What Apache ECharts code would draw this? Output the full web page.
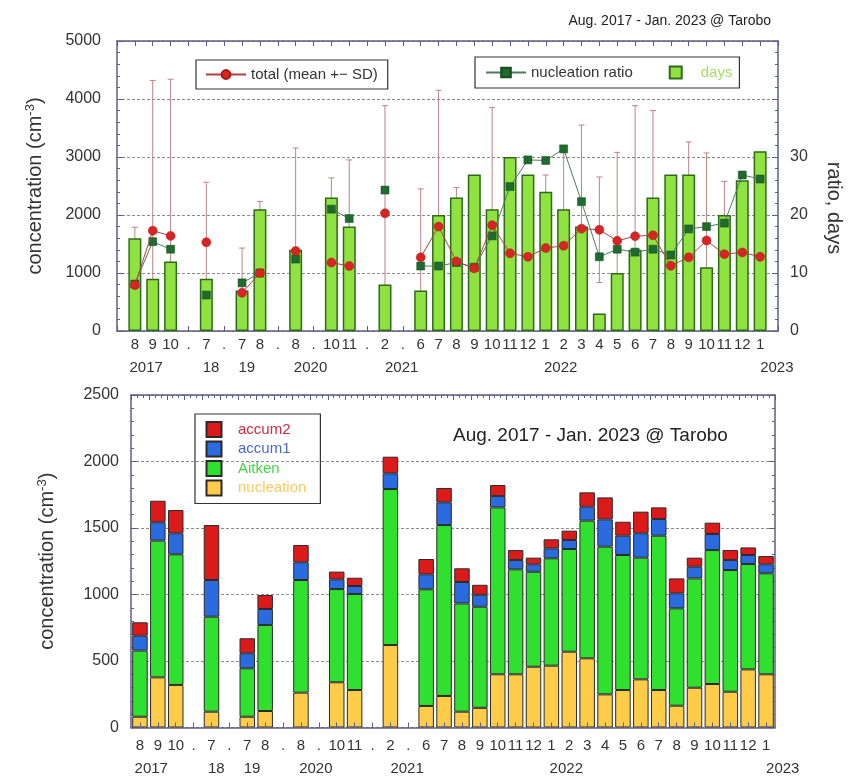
<!DOCTYPE html>
<html>
<head>
<meta charset="utf-8">
<script src="https://cdn.jsdelivr.net/npm/echarts/dist/echarts.min.js"></script>
<style>
  html, body { margin: 0; padding: 0; background: #ffffff; }
  #chart { width: 852px; height: 780px; }
</style>
</head>
<body>
<div id="chart"></div>
<script>
// Month slots along the time axis ('.' marks a skipped period)
const monthLabels = ['8','9','10','.','7','.','7','8','.','8','.','10','11','.','2','.',
  '6','7','8','9','10','11','12','1','2','3','4','5','6','7','8','9','10','11','12','1'];
// Year captions under the month row, and the slot where each caption starts
const yearLabels = ['2017','18','19','2020','2021','2022','2023'];
const yearAt = [-0.3, 3.8, 5.8, 8.9, 14.0, 22.9, 35.0];

// Upper panel: measurement days, total concentration (mean, SD), nucleation ratio
const days = [16, 9, 12, null, 9, null, 7, 21, null, 14, null, 23, 18, null, 8, null,
  7, 20, 23, 27, 21, 30, 27, 24, 21, 18, 3, 10, 14, 23, 27, 27, 11, 20, 26, 31];
const totalMean = [790, 1730, 1640, null, 1530, null, 660, 1000, null, 1380, null, 1180, 1120, null, 2030, null,
  1270, 1800, 1200, 1080, 1825, 1340, 1280, 1430, 1470, 1765, 1745, 1555, 1635, 1650, 1125, 1270, 1560, 1325, 1355, 1280];
const totalSD = [1000, 2590, 2700, null, 1035, null, 770, 1235, null, 1775, null, 1460, 1830, null, 1855, null,
  1180, 2350, 1275, 1400, 2030, 1050, 1150, 1260, 1655, 1785, 910, 1525, 2250, 2150, 1150, 1990, 1510, 1255, 1180, 1200];
const nucleationRatio = [8.1, 15.4, 14.1, null, 6.2, null, 8.3, 10.0, null, 12.4, null, 21.0, 19.4, null, 24.3, null,
  11.2, 11.2, 11.8, 11.0, 16.4, 24.9, 29.5, 29.4, 31.4, 22.3, 12.8, 14.1, 13.6, 14.1, 13.1, 17.6, 18.0, 18.6, 26.9, 26.2];

// Lower panel: size-resolved concentrations (cm-3)
const nucleation = [81, 377, 320, null, 119, null, 81, 124, null, 262, null, 340, 282, null, 620, null,
  162, 237, 119, 148, 400, 400, 457, 465, 570, 520, 249, 282, 362, 282, 164, 299, 327, 269, 437, 400];
const aitken = [497, 1028, 982, null, 714, null, 364, 647, null, 847, null, 701, 722, null, 1173, null,
  877, 1285, 814, 760, 1255, 789, 714, 807, 772, 1035, 1111, 1015, 915, 1160, 732, 822, 1007, 915, 792, 759];
const accum1 = [112, 138, 158, null, 276, null, 113, 120, null, 133, null, 73, 60, null, 118, null,
  113, 171, 161, 90, 85, 70, 56, 75, 68, 105, 205, 145, 183, 126, 113, 88, 121, 75, 68, 68];
const accum2 = [101, 162, 175, null, 413, null, 113, 105, null, 130, null, 58, 62, null, 125, null,
  115, 108, 103, 75, 83, 75, 50, 68, 70, 108, 165, 105, 163, 87, 112, 68, 85, 75, 57, 62];

const FONT = '"Liberation Sans", Arial, sans-serif';
const FRAME = '#5c5c88';
const TEXT = '#333333';
const pairs = arr => arr.map((v, i) => [i, v]);
const square = 'path://M0,0H10V10H0Z';

const frameLine = { show: true, onZero: false, lineStyle: { color: FRAME, width: 1.5 } };
const gridDash = { show: true, lineStyle: { color: '#8a8a8a', type: [3, 2], width: 1 } };
const tickIn = len => ({ show: true, inside: true, length: len, lineStyle: { color: FRAME, width: 1 } });
const minorIn = n => ({ show: true, splitNumber: n, length: 3, lineStyle: { color: FRAME, width: 1 } });
const plain = v => String(v);
const conc = {
  t: { fontSize: 20, color: TEXT, fontFamily: FONT },
  s: { fontSize: 13, color: TEXT, fontFamily: FONT, verticalAlign: 'bottom', padding: [0, 0, 10, 0] }
};
const yearLabel = {
  fontSize: 15, color: TEXT, align: 'left', customValues: yearAt,
  formatter: v => yearLabels[yearAt.indexOf(v)] ?? ''
};

const option = {
  animation: false,
  backgroundColor: '#ffffff',
  textStyle: { fontFamily: FONT },
  title: [
    { text: 'Aug. 2017 - Jan. 2023 @ Tarobo', right: 76, top: 9,
      textStyle: { fontSize: 14, fontWeight: 'normal', color: '#222', fontFamily: FONT } },
    { text: 'Aug. 2017 - Jan. 2023 @ Tarobo', left: 448, top: 421,
      textStyle: { fontSize: 19, fontWeight: 'normal', color: '#222', fontFamily: FONT } }
  ],
  legend: [
    { data: ['total (mean +− SD)'], left: 196, top: 60, orient: 'horizontal',
      itemWidth: 40, itemHeight: 11, padding: [7, 10, 7, 9],
      borderColor: '#333', borderWidth: 1.2, selectedMode: false,
      textStyle: { fontSize: 15, color: TEXT, fontFamily: FONT } },
    { data: ['nucleation ratio', { name: 'days', icon: square, textStyle: { color: '#a6dc6a' } }],
      left: 475, top: 57, orient: 'horizontal',
      itemWidth: 40, itemHeight: 12, itemGap: 36, padding: [8, 7, 8, 10],
      borderColor: '#333', borderWidth: 1.2, selectedMode: false,
      textStyle: { fontSize: 15, color: TEXT, fontFamily: FONT } },
    { data: [
        { name: 'accum2', icon: square, textStyle: { color: '#d02a40' } },
        { name: 'accum1', icon: square, textStyle: { color: '#4a68cc' } },
        { name: 'Aitken', icon: square, textStyle: { color: '#40d840' } },
        { name: 'nucleation', icon: square, textStyle: { color: '#f8cc5a' } }
      ],
      left: 195, top: 414, orient: 'vertical',
      itemWidth: 38, itemHeight: 15, itemGap: 2.5, padding: [7, 14, 7, 10.5],
      borderColor: '#333', borderWidth: 1.2, selectedMode: false,
      textStyle: { fontSize: 15, lineHeight: 15, fontFamily: FONT } }
  ],
  grid: [
    { left: 117, top: 41, width: 665, height: 290 },
    { left: 131, top: 395, width: 644, height: 332.5 }
  ],
  xAxis: [
    // upper panel: month row, top frame, year row
    { gridIndex: 0, type: 'value', min: -1, max: 36, interval: 1, position: 'bottom',
      axisLine: frameLine, axisTick: tickIn(5), splitLine: { show: false },
      axisLabel: { fontSize: 15, color: TEXT, margin: 6, formatter: v => monthLabels[v] ?? '' } },
    { gridIndex: 0, type: 'value', min: -1, max: 36, interval: 1, position: 'top',
      axisLine: frameLine, axisTick: tickIn(5), splitLine: { show: false }, axisLabel: { show: false } },
    { gridIndex: 0, type: 'value', min: -1, max: 36, position: 'bottom', offset: 23,
      axisLine: { show: false }, axisTick: { show: false }, splitLine: { show: false },
      axisLabel: Object.assign({ margin: 6 }, yearLabel) },
    // lower panel: month row, top frame, year row
    { gridIndex: 1, type: 'category', data: monthLabels, boundaryGap: true, position: 'bottom', z: 5,
      axisLine: frameLine, splitLine: { show: false },
      axisTick: Object.assign(tickIn(5), { alignWithLabel: true, interval: 0 }),
      axisLabel: { fontSize: 15, color: TEXT, margin: 11, interval: 0 } },
    { gridIndex: 1, type: 'value', min: 0, max: 108, interval: 3, position: 'top',
      axisLine: frameLine, axisTick: tickIn(5), minorTick: minorIn(3),
      splitLine: { show: false }, axisLabel: { show: false } },
    { gridIndex: 1, type: 'value', min: -0.5, max: 35.5, position: 'bottom', offset: 23,
      axisLine: { show: false }, axisTick: { show: false }, splitLine: { show: false },
      axisLabel: Object.assign({ margin: 11 }, yearLabel) }
  ],
  yAxis: [
    { gridIndex: 0, type: 'value', min: 0, max: 5000, interval: 1000, position: 'left',
      axisLine: frameLine, axisTick: tickIn(6), minorTick: minorIn(5), splitLine: gridDash,
      axisLabel: { fontSize: 16, color: TEXT, margin: 16, formatter: plain },
      name: '{t|concentration (cm}{s|-3}{t|)}', nameLocation: 'middle', nameGap: 70,
      nameTextStyle: { rich: conc } },
    { gridIndex: 0, type: 'value', min: 0, max: 50, interval: 10, position: 'right',
      axisLine: frameLine, axisTick: tickIn(6), minorTick: minorIn(5), splitLine: { show: false },
      axisLabel: { fontSize: 16, color: TEXT, margin: 12, formatter: v => (v <= 30 ? String(v) : '') },
      name: 'ratio, days', nameLocation: 'middle', nameRotate: -90, nameGap: 46,
      nameTextStyle: { fontSize: 20, color: TEXT, fontFamily: FONT, padding: [0, 0, 0, 44] } },
    { gridIndex: 1, type: 'value', min: 0, max: 2500, interval: 500, position: 'left',
      axisLine: frameLine, axisTick: tickIn(6), minorTick: minorIn(5), splitLine: gridDash,
      axisLabel: { fontSize: 16, color: TEXT, margin: 12, formatter: plain },
      name: '{t|concentration (cm}{s|-3}{t|)}', nameLocation: 'middle', nameGap: 72,
      nameTextStyle: { rich: conc } },
    { gridIndex: 1, type: 'value', min: 0, max: 2500, interval: 500, position: 'right',
      axisLine: frameLine, axisTick: tickIn(6), minorTick: minorIn(5),
      splitLine: { show: false }, axisLabel: { show: false } }
  ],
  series: [
    // SD whiskers of the total concentration
    { type: 'custom', name: 'SD', xAxisIndex: 0, yAxisIndex: 0, z: 1, silent: true,
      data: totalMean.map((m, i) => [i, m, totalSD[i]]),
      encode: { x: 0, y: 1 },
      renderItem: (params, api) => {
        const x = api.value(0), m = api.value(1), s = api.value(2);
        if (isNaN(m) || isNaN(s)) return null;
        const lo = Math.max(0, m - s), hi = m + s;
        const pHi = api.coord([x, hi]), pLo = api.coord([x, lo]);
        const st = { stroke: '#b98585', lineWidth: 1 };
        const kids = [
          { type: 'line', shape: { x1: pHi[0], y1: pHi[1], x2: pLo[0], y2: pLo[1] }, style: st },
          { type: 'line', shape: { x1: pHi[0] - 3, y1: pHi[1], x2: pHi[0] + 3, y2: pHi[1] }, style: st }
        ];
        if (m - s > 0) {
          kids.push({ type: 'line', shape: { x1: pLo[0] - 3, y1: pLo[1], x2: pLo[0] + 3, y2: pLo[1] }, style: st });
        }
        return { type: 'group', children: kids };
      } },
    { type: 'bar', name: 'days', xAxisIndex: 0, yAxisIndex: 1, z: 2, barWidth: 13,
      data: pairs(days),
      itemStyle: { color: '#8fe23f', borderColor: '#2f6a1c', borderWidth: 1.5 } },
    { type: 'line', name: 'nucleation ratio', xAxisIndex: 0, yAxisIndex: 1, z: 3,
      data: pairs(nucleationRatio), connectNulls: false,
      symbol: 'rect', symbolSize: 8,
      itemStyle: { color: '#1f6a2e', borderColor: '#164d20', borderWidth: 0.5 },
      lineStyle: { color: '#4f7a5c', width: 1 } },
    { type: 'line', name: 'total (mean +− SD)', xAxisIndex: 0, yAxisIndex: 0, z: 4,
      data: pairs(totalMean), connectNulls: false,
      symbol: 'circle', symbolSize: 9,
      itemStyle: { color: '#d92424', borderColor: '#a81a1a', borderWidth: 0.5 },
      lineStyle: { color: '#b04040', width: 1 } },

    // Stacked size classes
    { type: 'bar', name: 'nucleation', stack: 'size', xAxisIndex: 3, yAxisIndex: 2, barWidth: 15.5,
      data: nucleation, itemStyle: { color: '#ffcc4a', borderColor: '#2a2a2a', borderWidth: 1 } },
    { type: 'bar', name: 'Aitken', stack: 'size', xAxisIndex: 3, yAxisIndex: 2, barWidth: 15.5,
      data: aitken, itemStyle: { color: '#2fe02f', borderColor: '#2a2a2a', borderWidth: 1 } },
    { type: 'bar', name: 'accum1', stack: 'size', xAxisIndex: 3, yAxisIndex: 2, barWidth: 15.5,
      data: accum1, itemStyle: { color: '#2b6be0', borderColor: '#2a2a2a', borderWidth: 1 } },
    { type: 'bar', name: 'accum2', stack: 'size', xAxisIndex: 3, yAxisIndex: 2, barWidth: 15.5,
      data: accum2, itemStyle: { color: '#dc1a1a', borderColor: '#2a2a2a', borderWidth: 1 } }
  ]
};

const chart = echarts.init(document.getElementById('chart'), null, { renderer: 'canvas' });
chart.setOption(option);
</script>
</body>
</html>
